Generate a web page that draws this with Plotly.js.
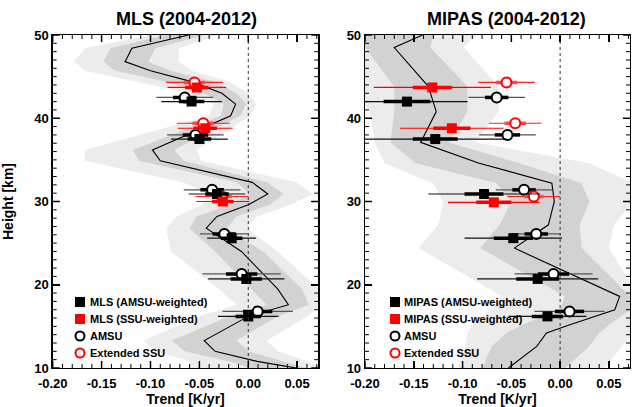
<!DOCTYPE html>
<html><head><meta charset="utf-8">
<script src="https://cdn.plot.ly/plotly-3.0.1.min.js"></script>
<style>html,body{margin:0;padding:0;background:#fff}</style>
</head><body><div id="chart" style="width:633px;height:407px"></div>
<script>
// ---------- MLS panel: mean trend profile and uncertainty bands ----------
const mlsHeight  = [50, 48.4, 46.8, 45.7, 44.4, 43.0, 41.7, 40.3, 36.2, 34.9, 32.3, 30.9, 29.6, 28.2, 26.8, 24.0, 19.5, 17.6, 16.2, 13.3, 12.0, 10.8, 10.0];
const mlsLine    = [-0.061, -0.119, -0.126, -0.100, -0.058, -0.027, -0.013, -0.018, -0.098, -0.090, 0.004, 0.020, 0.000, -0.032, -0.043, -0.007, 0.030, 0.041, 0.000, -0.045, -0.034, 0.009, 0.049];
const mlsDarkLo  = [-0.085, -0.141, -0.148, -0.136, -0.085, -0.045, -0.025, -0.028, -0.118, -0.112, -0.012, 0.002, -0.019, -0.053, -0.060, -0.034, 0.003, 0.019, -0.020, -0.078, -0.065, -0.020, 0.002];
const mlsDarkHi  = [-0.045, -0.095, -0.102, -0.080, -0.035, -0.012, -0.002, -0.008, -0.076, -0.066, 0.019, 0.036, 0.022, -0.012, -0.022, 0.015, 0.055, 0.062, 0.030, -0.012, 0.000, 0.035, 0.060];
const mlsLightLo = [-0.100, -0.167, -0.178, -0.167, -0.115, -0.060, -0.035, -0.040, -0.167, -0.167, -0.067, -0.040, -0.047, -0.073, -0.084, -0.079, -0.030, -0.012, -0.050, -0.107, -0.095, -0.060, -0.060];
const mlsLightHi = [-0.030, -0.071, -0.071, -0.058, -0.020, 0.000, 0.008, 0.002, -0.053, -0.048, 0.049, 0.066, 0.043, 0.009, -0.002, 0.030, 0.072, 0.075, 0.060, 0.019, 0.030, 0.060, 0.075];

// ---------- MIPAS panel ----------
const mipHeight  = [50, 48.5, 43.8, 40.8, 37.1, 34.6, 32.2, 30.0, 27.2, 24.4, 18.6, 17.0, 15.2, 14.2, 12.6, 10.0];
const mipLine    = [-0.141, -0.170, -0.135, -0.127, -0.143, -0.083, -0.0085, -0.006, -0.012, -0.047, 0.061, 0.056, 0.010, -0.014, -0.024, -0.053];
const mipDarkLo  = [-0.200, -0.200, -0.170, -0.170, -0.174, -0.148, -0.065, -0.050, -0.062, -0.082, 0.005, 0.000, -0.039, -0.055, -0.070, -0.080];
const mipDarkHi  = [-0.130, -0.133, -0.095, -0.095, -0.114, -0.042, 0.022, 0.030, 0.020, 0.022, 0.072, 0.072, 0.050, 0.040, 0.030, 0.005];
const mipLightLo = [-0.230, -0.230, -0.215, -0.195, -0.190, -0.180, -0.130, -0.120, -0.125, -0.145, -0.059, -0.070, -0.090, -0.095, -0.097, -0.105];
const mipLightHi = [-0.086, -0.099, -0.063, -0.063, -0.087, 0.030, 0.075, 0.075, 0.055, 0.050, 0.080, 0.080, 0.080, 0.075, 0.063, 0.045];

// ---------- Satellite trends (same in both panels) ----------
const amsuHeight = [42.5, 38.0, 31.4, 26.1, 21.3, 16.8];
const amsuTrend  = [-0.065, -0.054, -0.037, -0.0245, -0.0068, 0.0096];
const amsuErr2   = [0.029, 0.029, 0.029, 0.025, 0.040, 0.036];
const amsuErr1   = [0.012, 0.013, 0.012, 0.012, 0.016, 0.015];

const ssuHeight  = [44.3, 39.4, 30.6];
const ssuTrend   = [-0.055, -0.046, -0.027];
const ssuErr2    = [0.029, 0.027, 0.027];
const ssuErr1    = [0.011, 0.011, 0.010];

// ---------- MLS sampled trends ----------
const mlsAmsuHeight = [42.0, 37.5, 30.9, 25.6, 20.7, 16.2];
const mlsAmsuTrend  = [-0.058, -0.050, -0.032, -0.017, -0.002, 0.000];
const mlsAmsuErr2   = [0.031, 0.029, 0.029, 0.025, 0.039, 0.031];
const mlsAmsuErr1   = [0.013, 0.012, 0.012, 0.011, 0.016, 0.013];

const mlsSsuHeight  = [43.7, 38.8, 30.0];
const mlsSsuTrend   = [-0.0526, -0.044, -0.026];
const mlsSsuErr2    = [0.030, 0.028, 0.027];
const mlsSsuErr1    = [0.012, 0.012, 0.011];

// ---------- MIPAS sampled trends ----------
const mipAmsuHeight = [42.0, 37.5, 30.9, 25.6, 20.7, 16.2];
const mipAmsuTrend  = [-0.157, -0.128, -0.078, -0.048, -0.023, -0.013];
const mipAmsuErr2   = [0.062, 0.073, 0.057, 0.050, 0.062, 0.040];
const mipAmsuErr1   = [0.024, 0.023, 0.020, 0.020, 0.022, 0.016];

const mipSsuHeight  = [43.7, 38.8, 29.9];
const mipSsuTrend   = [-0.131, -0.111, -0.068];
const mipSsuErr2    = [0.060, 0.053, 0.047];
const mipSsuErr1    = [0.020, 0.019, 0.018];

// ---------- axis ticks and legend labels ----------
const xTickVals = [-0.20, -0.15, -0.10, -0.05, 0.00, 0.05];
const xTickText = ['-0.20', '-0.15', '-0.10', '-0.05', '0.00', '0.05'];
const mlsLegendLabels = ['MLS (AMSU-weighted)', 'MLS (SSU-weighted)', 'AMSU', 'Extended SSU'];
const mipLegendLabels = ['MIPAS (AMSU-weighted)', 'MIPAS (SSU-weighted)', 'AMSU', 'Extended SSU'];

const FONT = 'Liberation Sans, Arial, Helvetica, sans-serif';
const LIGHT = 'rgb(236,236,236)';
const DARK = 'rgb(210,210,210)';
const W = 633, H = 407;
const X_RANGE = [-0.2, 0.0716], Y_RANGE = [10, 50];
const PLOT_W = 265.6, PLOT_H = 333;

function band(lo, hi, h, color, xa, ya) {
  return {x: lo.concat(hi.slice().reverse()), y: h.concat(h.slice().reverse()),
    mode: 'lines', fill: 'toself', fillcolor: color, line: {width: 0, color: color},
    hoverinfo: 'skip', showlegend: false, xaxis: xa, yaxis: ya};
}
function profile(x, h, xa, ya) {
  return {x: x, y: h, mode: 'lines', line: {color: 'black', width: 1.1},
    hoverinfo: 'skip', showlegend: false, xaxis: xa, yaxis: ya};
}
function series(t, h, e2, e1, o, xa, ya) {
  const thin = {x: t, y: h, mode: 'markers', marker: {size: 1, color: 'rgba(0,0,0,0)'},
    error_x: {type: 'data', array: e2, width: 0, thickness: 1.2, color: o.thin},
    hoverinfo: 'skip', showlegend: false, xaxis: xa, yaxis: ya};
  const thick = {x: t, y: h, mode: 'markers', name: o.name, marker: o.marker,
    error_x: {type: 'data', array: e1, width: 0, thickness: 3.5, color: o.thick},
    showlegend: false, xaxis: xa, yaxis: ya};
  return [thin, thick];
}
const mkCircle = c => ({symbol: 'circle', size: 10, color: 'white', line: {color: c, width: 2}});
const mkSquare = c => ({symbol: 'square', size: 10, color: c, line: {width: 0}});

let data = [];
function panel(xa, ya, P) {
  data.push(band(P.lightLo, P.lightHi, P.h, LIGHT, xa, ya));
  data.push(band(P.darkLo, P.darkHi, P.h, DARK, xa, ya));
  data.push(profile(P.line, P.h, xa, ya));
  data = data.concat(series(amsuTrend, amsuHeight, amsuErr2, amsuErr1,
    {name: P.labels[2], thin: '#555555', thick: 'black', marker: mkCircle('black')}, xa, ya));
  data = data.concat(series(ssuTrend, ssuHeight, ssuErr2, ssuErr1,
    {name: P.labels[3], thin: 'rgb(255,30,30)', thick: 'rgb(255,70,70)', marker: mkCircle('red')}, xa, ya));
  data = data.concat(series(P.aT, P.aH, P.aE2, P.aE1,
    {name: P.labels[0], thin: '#111111', thick: 'black', marker: mkSquare('black')}, xa, ya));
  data = data.concat(series(P.sT, P.sH, P.sE2, P.sE1,
    {name: P.labels[1], thin: 'red', thick: 'red', marker: mkSquare('red')}, xa, ya));
}
panel('x', 'y', {h: mlsHeight, line: mlsLine, darkLo: mlsDarkLo, darkHi: mlsDarkHi, lightLo: mlsLightLo, lightHi: mlsLightHi,
  aT: mlsAmsuTrend, aH: mlsAmsuHeight, aE2: mlsAmsuErr2, aE1: mlsAmsuErr1,
  sT: mlsSsuTrend, sH: mlsSsuHeight, sE2: mlsSsuErr2, sE1: mlsSsuErr1, labels: mlsLegendLabels});
panel('x2', 'y2', {h: mipHeight, line: mipLine, darkLo: mipDarkLo, darkHi: mipDarkHi, lightLo: mipLightLo, lightHi: mipLightHi,
  aT: mipAmsuTrend, aH: mipAmsuHeight, aE2: mipAmsuErr2, aE1: mipAmsuErr1,
  sT: mipSsuTrend, sH: mipSsuHeight, sE2: mipSsuErr2, sE1: mipSsuErr1, labels: mipLegendLabels});

const yDom = [(H - 368) / H, (H - 35) / H];
const tickFont = {family: FONT, size: 13, color: 'black', weight: 'bold'};
const alias = {};
xTickVals.forEach((v, i) => { alias[(v < 0 ? '\u2212' : '') + Math.abs(v).toFixed(2)] = xTickText[i]; });

function xAxis(dom, anchor) {
  return {domain: dom, anchor: anchor, range: X_RANGE, tickmode: 'linear', tick0: 0, dtick: 0.05,
    tickformat: '.2f', labelalias: alias, ticks: 'inside', ticklen: 7, tickwidth: 1.5,
    tickcolor: 'black', showline: true, linecolor: 'black', linewidth: 1.3, mirror: 'allticks',
    showgrid: false, zeroline: false, tickfont: tickFont, ticklabelstandoff: 3, layer: 'above traces',
    title: {text: 'Trend [K/yr]', font: {family: FONT, size: 14, color: 'black', weight: 'bold'}, standoff: 1},
    automargin: false};
}
function yAxis(anchor, withTitle) {
  const a = {domain: yDom, anchor: anchor, range: Y_RANGE, tickmode: 'linear', tick0: 0, dtick: 10,
    ticks: 'inside', ticklen: 7, tickwidth: 1.5, layer: 'above traces',
    tickcolor: 'black', showline: true, linecolor: 'black', linewidth: 1.3, mirror: 'allticks',
    showgrid: false, zeroline: false, tickfont: tickFont,
    automargin: false};
  if (withTitle) a.title = {text: 'Height [km]', font: {family: FONT, size: 14, color: 'black', weight: 'bold'}, standoff: 18};
  return a;
}

const shapes = [
  {type: 'line', xref: 'x', yref: 'y domain', x0: 0, x1: 0, y0: 0, y1: 1, layer: 'above',
    line: {color: '#333', width: 1, dash: 'dot'}},
  {type: 'line', xref: 'x2', yref: 'y2 domain', x0: 0, x1: 0, y0: 0, y1: 1, layer: 'above',
    line: {color: '#333', width: 1, dash: 'dot'}}
];
// small tick marks on all four sides of each frame (every 0.01 K/yr and every 1 km)
function frameTicks(xa, ya) {
  for (let k = -20; k <= 7; k++) {
    const len = (k % 5 === 0 ? 7 : 4) / PLOT_H;
    const v = k / 100;
    [[0, len], [1, 1 - len]].forEach(s => shapes.push({type: 'line', xref: xa, yref: ya + ' domain',
      x0: v, x1: v, y0: s[0], y1: s[1], layer: 'above', line: {color: 'black', width: k % 5 === 0 ? 1.5 : 1}}));
  }
  for (let h = 10; h <= 50; h++) {
    const len = (h % 10 === 0 ? 7 : 4) / PLOT_W;
    [[0, len], [1, 1 - len]].forEach(s => shapes.push({type: 'line', xref: xa + ' domain', yref: ya,
      x0: s[0], x1: s[1], y0: h, y1: h, layer: 'above', line: {color: 'black', width: h % 10 === 0 ? 1.5 : 1}}));
  }
}
frameTicks('x', 'y');
frameTicks('x2', 'y2');

const annotations = [
  {text: 'MLS (2004-2012)', xref: 'paper', yref: 'paper', x: 186.7 / W, y: 1 - 19 / H,
    showarrow: false, xanchor: 'center', yanchor: 'middle', font: {family: FONT, size: 18, color: 'black', weight: 'bold'}},
  {text: 'MIPAS (2004-2012)', xref: 'paper', yref: 'paper', x: 506.7 / W, y: 1 - 19 / H,
    showarrow: false, xanchor: 'center', yanchor: 'middle', font: {family: FONT, size: 18, color: 'black', weight: 'bold'}}
];
// manual legends (keys drawn as layout shapes, labels as annotations)
const legendRowsY = [302, 319, 336, 353];
function addLegend(symX, textX, labels) {
  const keys = [{t: 'rect', c: 'black'}, {t: 'rect', c: 'red'}, {t: 'circle', c: 'black'}, {t: 'circle', c: 'red'}];
  keys.forEach((k, i) => {
    const cy = legendRowsY[i];
    const r = k.t === 'rect' ? 5 : 4.5;
    shapes.push({type: k.t, xref: 'paper', yref: 'paper', layer: 'above',
      x0: (symX - r) / W, x1: (symX + r) / W, y0: 1 - (cy + r) / H, y1: 1 - (cy - r) / H,
      fillcolor: k.t === 'rect' ? k.c : 'white',
      line: k.t === 'rect' ? {width: 0} : {color: k.c, width: 2}});
    annotations.push({text: labels[i], xref: 'paper', yref: 'paper', x: textX / W, y: 1 - cy / H,
      xanchor: 'left', yanchor: 'middle', showarrow: false,
      font: {family: FONT, size: 11, color: 'black', weight: 'bold'}});
  });
}
addLegend(80, 88, mlsLegendLabels);
addLegend(395, 402, mipLegendLabels);

const layout = {
  width: W, height: H, margin: {l: 0, r: 0, t: 0, b: 0},
  paper_bgcolor: 'white', plot_bgcolor: 'white', showlegend: false,
  font: {family: FONT, color: 'black'},
  xaxis: xAxis([52.7 / W, 318.3 / W], 'y'),
  yaxis: yAxis('x', true),
  xaxis2: xAxis([365 / W, 630 / W], 'y2'),
  yaxis2: yAxis('x2', false),
  shapes: shapes,
  annotations: annotations
};

Plotly.newPlot('chart', data, layout, {displayModeBar: false, staticPlot: true});
</script></body></html>
